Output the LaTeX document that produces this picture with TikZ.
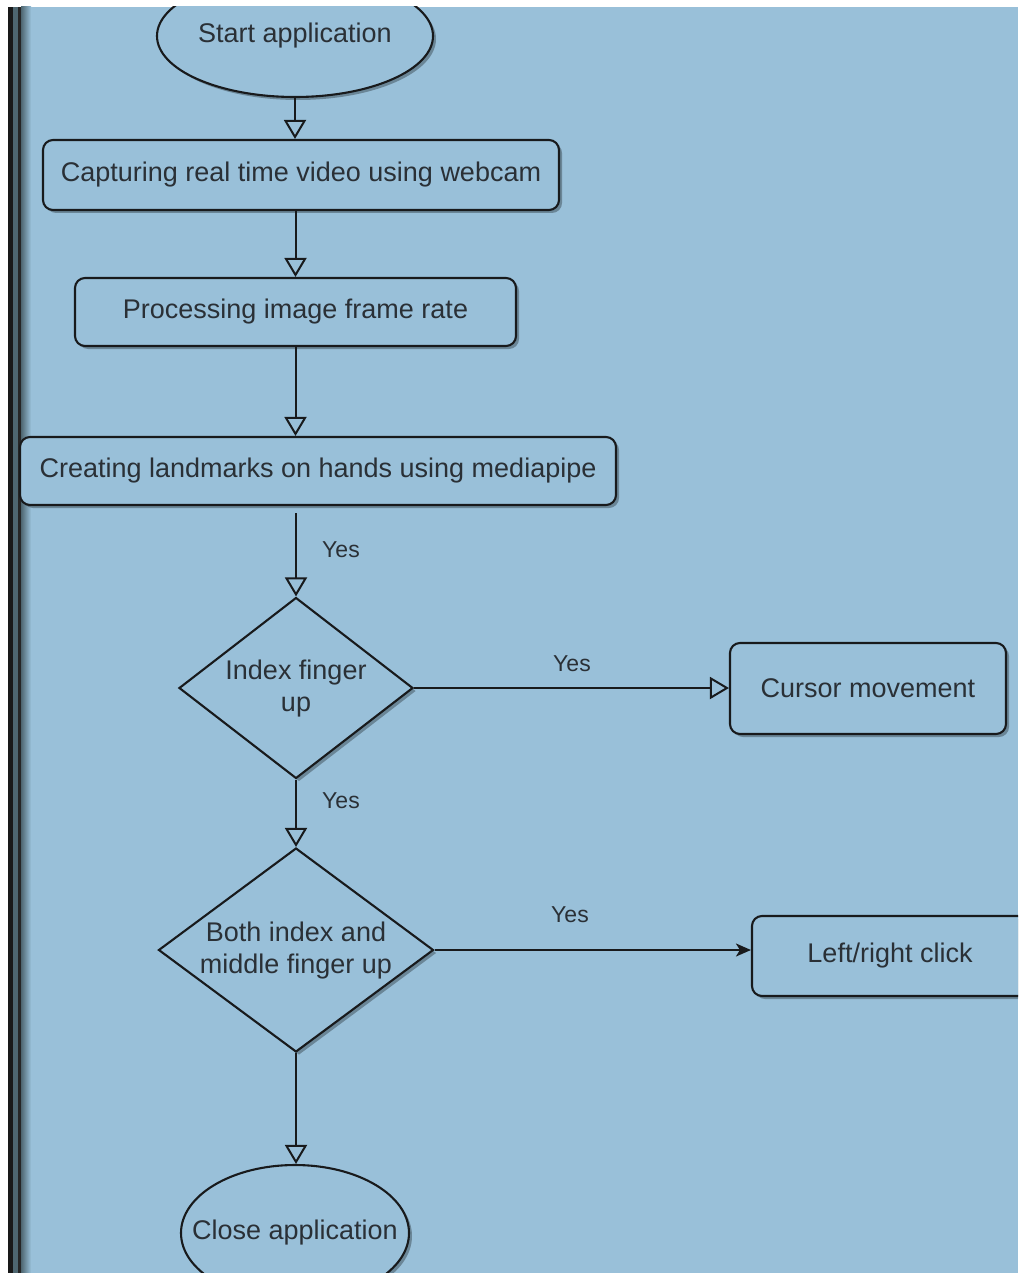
\documentclass[tikz,border=0pt]{standalone}
\usepackage{fontspec}
\setmainfont{Liberation Sans}
\usetikzlibrary{shapes.geometric,shadows,arrows.meta}
\definecolor{bg}{RGB}{153,192,217}
\definecolor{txt}{RGB}{42,48,54}
\definecolor{slate}{RGB}{78,102,112}
\definecolor{ln}{RGB}{24,26,28}
\tikzset{
  shp/.style={draw=ln, line width=2.1pt, fill=bg, text=txt, inner sep=0pt,
    font=\fontsize{27}{35}\selectfont, align=center,
    drop shadow={shadow xshift=3pt, shadow yshift=-3pt, opacity=0.3, fill=black}},
  procbox/.style={shp, rectangle, rounded corners=10pt},
  termnode/.style={shp, ellipse},
  decnode/.style={shp, diamond},
  lbl/.style={text=txt, font=\fontsize{23}{27}\selectfont, inner sep=0pt},
  oarrow/.style={draw=ln, line width=2pt, -{Triangle[open, fill=bg, length=19pt, width=22pt]}},
  farrow/.style={draw=ln, line width=2pt, -{Stealth[length=15pt, width=13pt, inset=4pt]}}
}
\begin{document}
\begin{tikzpicture}[x=1pt,y=-1pt]
\useasboundingbox (0,0) rectangle (1018,1273);
% background
\fill[white] (0,0) rectangle (1018,1273);
\fill[bg] (8,7) rectangle (1018,1273);
\fill[black!90] (8,7) rectangle (13,1273);
\fill[slate] (13,7) rectangle (18,1273);
\fill[black!85] (18,7) rectangle (21,1273);
\shade[left color=slate, right color=bg] (21,7) rectangle (31,1273);
\begin{scope}
\clip (8,7) rectangle (1018,1273);
% nodes
\node[termnode, minimum width=276pt, minimum height=122pt] (start) at (295,36) {\raisebox{-3pt}{\makebox[0pt]{Start application}}};
\node[procbox, minimum width=516pt, minimum height=70pt] (box1) at (301,175) {Capturing real time video using webcam};
\node[procbox, minimum width=441pt, minimum height=68pt] (box2) at (295.5,312) {Processing image frame rate};
\node[procbox, minimum width=596pt, minimum height=68pt] (box3) at (318,471) {Creating landmarks on hands using mediapipe};
\node[decnode, minimum width=234pt, minimum height=181pt] (d1) at (296,688) {\makebox[0pt]{\begin{tabular}{@{}c@{}}Index finger\\[-3pt] up\end{tabular}}};
\node[procbox, minimum width=276pt, minimum height=91pt] (cursor) at (868,688.5) {Cursor movement};
\node[decnode, minimum width=275pt, minimum height=204pt] (d2) at (296,950) {\makebox[0pt]{\begin{tabular}{@{}c@{}}Both index and\\[-3pt] middle finger up\end{tabular}}};
\node[procbox, minimum width=276pt, minimum height=80pt] (click) at (890,956) {Left/right click};
\node[termnode, minimum width=228pt, minimum height=136pt] (close) at (295,1233) {\makebox[0pt]{Close application}};
\coordinate (c4) at (296,513);
% connectors
\draw[oarrow] (start.south) -- (start.south |- box1.north);
\draw[oarrow] (box2.north |- box1.south) -- (box2.north);
\draw[oarrow] (box2.south) -- (box2.south |- box3.north);
\draw[oarrow] (c4) -- (d1.north);
\draw[oarrow] (d1.east) -- (d1.east -| cursor.west);
\draw[oarrow] (d1.south) -- (d2.north);
\draw[farrow] (d2.east) -- (d2.east -| click.west);
\draw[oarrow] (d2.south) -- (d2.south |- close.north);
% labels
\node[lbl] (y1) at (341,550) {Yes};
\node[lbl] (y2) at (572,664) {Yes};
\node[lbl] (y3) at (341,801) {Yes};
\node[lbl] (y4) at (570,915) {Yes};
\end{scope}
\end{tikzpicture}
\end{document}
